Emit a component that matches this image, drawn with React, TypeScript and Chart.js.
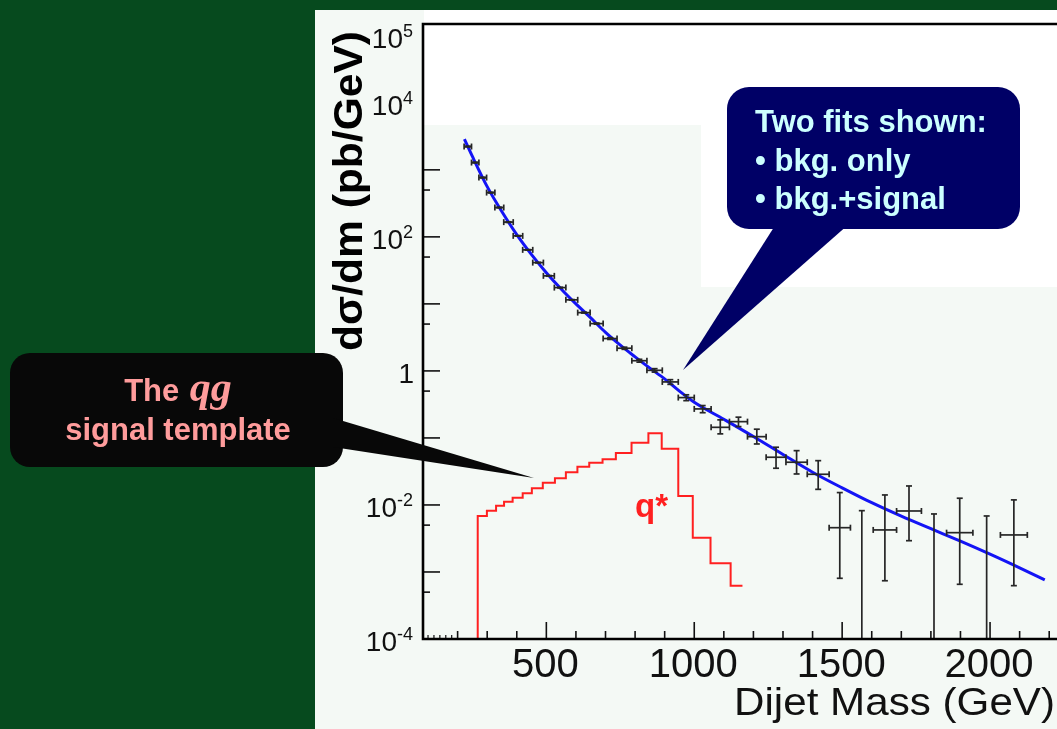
import React, { useEffect, useRef } from 'react';
import { Chart, registerables } from 'chart.js';

Chart.register(...registerables);

// ---------- data ----------
const binEdges = [222, 247, 272, 298, 326, 356, 388, 420, 454, 490, 527, 566, 606, 648, 692, 739, 789, 840, 892, 946, 1000, 1057, 1119, 1180, 1243, 1310, 1382, 1456, 1528, 1605, 1684, 1768, 1853, 1942, 2035, 2126];
const dataValues: (number | null)[] = [2228, 1285, 767, 458, 274, 166, 103.5, 64, 41.3, 26.2, 17.5, 11.5, 7.41, 5.08, 3.04, 2.18, 1.42, 1.02, 0.685, 0.4, 0.271, 0.144, 0.175, 0.1045, 0.0515, 0.0434, 0.0287, 4.58e-3, null, 4.24e-3, 8.13e-3, null, 3.86e-3, null, 3.57e-3];
const dataHigh = [2250, 1298, 775, 463, 277, 168, 104.5, 64.7, 41.7, 26.5, 17.7, 11.6, 7.52, 5.18, 3.13, 2.26, 1.49, 1.08, 0.74, 0.44, 0.304, 0.186, 0.204, 0.135, 0.0726, 0.0646, 0.0458, 0.0153, 8.22e-3, 0.0141, 0.0192, 7.34e-3, 0.0126, 6.85e-3, 0.0119];
const dataLow = [2206, 1272, 759, 453, 271, 164, 102.5, 63.3, 40.9, 25.9, 17.3, 11.4, 7.3, 4.98, 2.95, 2.1, 1.35, 0.96, 0.63, 0.36, 0.238, 0.115, 0.1476, 0.0813, 0.0353, 0.029, 0.0171, 8.05e-4, 0, 7.4e-4, 2.93e-3, 0, 6.55e-4, 0, 6.25e-4];

const fitMass = [223, 250, 300, 350, 400, 450, 500, 550, 600, 650, 700, 750, 800, 850, 900, 950, 1000, 1100, 1200, 1300, 1400, 1500, 1600, 1700, 1800, 1900, 2000, 2100, 2185];
const fitValues = [2884, 1585, 562, 237, 108, 54.3, 29.2, 16.7, 10.0, 6.17, 3.75, 2.42, 1.62, 1.1, 0.76, 0.5, 0.34, 0.19, 0.105, 0.0566, 0.0308, 0.018, 0.0108, 0.0068, 0.00442, 0.00288, 0.00184, 0.00115, 0.00076];

const signalEdges = [222, 268, 299, 330, 357, 386, 420, 451, 488, 529, 566, 605, 645, 690, 735, 788, 845, 890, 946, 995, 1055, 1123, 1163];
const signalValues = [1e-4, 6.85e-3, 8.2e-3, 9.7e-3, 1.12e-2, 1.28e-2, 1.5e-2, 1.77e-2, 2.15e-2, 2.5e-2, 3.08e-2, 3.73e-2, 4.28e-2, 4.81e-2, 5.97e-2, 8.5e-2, 0.1175, 6.92e-2, 1.36e-2, 3.25e-3, 1.35e-3, 6.25e-4];

const yDecades = [-4, -3, -2, -1, 0, 1, 2, 3, 4, 5];
const yLabelExponents = [5, 4, 2, 0, -2, -4];
const xMajorTicks = [500, 1000, 1500, 2000];
const xMinorTicks = [200, 300, 400, 600, 700, 800, 900, 1100, 1200, 1300, 1400, 1600, 1700, 1800, 1900, 2100, 2200];
const xTinyTicks = [100, 120, 140, 160, 180];
const xTickLabels = ['500', '1000', '1500', '2000'];

const yTitle = 'dσ/dm (pb/GeV)';
const xTitle = 'Dijet Mass (GeV)';
const fitsNote = ['Two fits shown:', '• bkg. only', '• bkg.+signal'];
const signalNote = ['The ', 'qg', 'signal template'];
const signalLabel = 'q*';

const FONT = "'Liberation Sans', Arial, Helvetica, sans-serif";
const SERIF = "'Liberation Serif', 'Times New Roman', serif";

function roundRectPath(ctx: CanvasRenderingContext2D, x: number, y: number, w: number, h: number, r: number) {
  ctx.beginPath();
  ctx.moveTo(x + r, y);
  ctx.lineTo(x + w - r, y);
  ctx.arcTo(x + w, y, x + w, y + r, r);
  ctx.lineTo(x + w, y + h - r);
  ctx.arcTo(x + w, y + h, x + w - r, y + h, r);
  ctx.lineTo(x + r, y + h);
  ctx.arcTo(x, y + h, x, y + h - r, r);
  ctx.lineTo(x, y + r);
  ctx.arcTo(x, y, x + r, y, r);
  ctx.closePath();
}

function seg(ctx: CanvasRenderingContext2D, x1: number, y1: number, x2: number, y2: number) {
  ctx.beginPath();
  ctx.moveTo(x1, y1);
  ctx.lineTo(x2, y2);
  ctx.stroke();
}

const decorPlugin = {
  id: 'decor',
  beforeDraw(chart: any) {
    const ctx: CanvasRenderingContext2D = chart.ctx;
    ctx.save();
    ctx.fillStyle = '#064a1e';
    ctx.fillRect(0, 0, chart.width, chart.height);
    ctx.fillStyle = '#f4f9f5';
    ctx.fillRect(315, 10, chart.width - 315, chart.height - 10);
    ctx.restore();
  },
  beforeDatasetsDraw(chart: any) {
    const ctx: CanvasRenderingContext2D = chart.ctx;
    const a = chart.chartArea;
    const x = chart.scales.x;
    const y = chart.scales.y;
    ctx.save();
    ctx.strokeStyle = '#111';
    ctx.lineWidth = 1.6;
    for (const e of yDecades) {
      const py = y.getPixelForValue(Math.pow(10, e));
      seg(ctx, a.left, py, a.left + 17, py);
      if (e < 5) {
        const pm = y.getPixelForValue(5 * Math.pow(10, e));
        seg(ctx, a.left, pm, a.left + 7, pm);
      }
    }
    for (const v of xMajorTicks) {
      const px = x.getPixelForValue(v);
      seg(ctx, px, a.bottom, px, a.bottom - 17);
    }
    for (const v of xMinorTicks) {
      const px = x.getPixelForValue(v);
      seg(ctx, px, a.bottom, px, a.bottom - 8);
    }
    ctx.lineWidth = 1.2;
    for (const v of xTinyTicks) {
      const px = x.getPixelForValue(v);
      seg(ctx, px, a.bottom, px, a.bottom - 4);
    }
    // white overlay panels
    ctx.fillStyle = '#ffffff';
    ctx.fillRect(a.left + 1, 10, 701 - (a.left + 1), 115);
    ctx.fillRect(701, 10, chart.width - 701, 277);
    ctx.restore();
  },
  afterDatasetsDraw(chart: any) {
    const ctx: CanvasRenderingContext2D = chart.ctx;
    const a = chart.chartArea;
    const x = chart.scales.x;
    const y = chart.scales.y;
    ctx.save();
    ctx.beginPath();
    ctx.rect(a.left, a.top, a.right - a.left, a.bottom - a.top);
    ctx.clip();
    ctx.strokeStyle = '#262626';
    ctx.lineWidth = 1.7;
    const cap = 3;
    for (let i = 0; i < dataValues.length; i++) {
      const xl = x.getPixelForValue(binEdges[i]);
      const xr = x.getPixelForValue(binEdges[i + 1]);
      const cx = (xl + xr) / 2;
      const yHi = y.getPixelForValue(dataHigh[i]);
      const lowVisible = dataLow[i] > 1e-4;
      const yLo = lowVisible ? y.getPixelForValue(dataLow[i]) : a.bottom + 2;
      const v = dataValues[i];
      if (v !== null) {
        const cy = y.getPixelForValue(v);
        seg(ctx, xl, cy, xr, cy);
        seg(ctx, xl, cy - cap, xl, cy + cap);
        seg(ctx, xr, cy - cap, xr, cy + cap);
      }
      seg(ctx, cx, yHi, cx, yLo);
      seg(ctx, cx - cap, yHi, cx + cap, yHi);
      if (lowVisible) seg(ctx, cx - cap, yLo, cx + cap, yLo);
    }
    ctx.restore();

    // frame
    ctx.save();
    ctx.strokeStyle = '#000';
    ctx.lineWidth = 2.6;
    ctx.beginPath();
    ctx.moveTo(chart.width, a.top);
    ctx.lineTo(a.left, a.top);
    ctx.lineTo(a.left, a.bottom);
    ctx.lineTo(chart.width, a.bottom);
    ctx.stroke();
    ctx.restore();
  },
  afterDraw(chart: any) {
    const ctx: CanvasRenderingContext2D = chart.ctx;
    const x = chart.scales.x;
    const y = chart.scales.y;
    ctx.save();
    ctx.fillStyle = '#111';
    ctx.textBaseline = 'alphabetic';
    // y tick labels
    const right = 413;
    for (const e of yLabelExponents) {
      const py = y.getPixelForValue(Math.pow(10, e));
      if (e === 0) {
        ctx.font = `28px ${FONT}`;
        ctx.textAlign = 'right';
        ctx.fillText('1', right + 1, py + 12);
      } else {
        const sup = String(e);
        ctx.font = `18px ${FONT}`;
        const sw = ctx.measureText(sup).width;
        ctx.textAlign = 'left';
        ctx.fillText(sup, right - sw, py + 1);
        ctx.font = `28px ${FONT}`;
        ctx.textAlign = 'right';
        ctx.fillText('10', right - sw, py + 12);
      }
    }
    // x tick labels
    ctx.font = `40px ${FONT}`;
    ctx.textAlign = 'center';
    xMajorTicks.forEach((v, i) => {
      ctx.fillText(xTickLabels[i], x.getPixelForValue(v) - 1, 677);
    });
    // x title
    ctx.font = `39px ${FONT}`;
    const tw = ctx.measureText(xTitle).width;
    ctx.save();
    ctx.translate(1055, 715);
    ctx.scale(321 / tw, 1);
    ctx.textAlign = 'right';
    ctx.fillText(xTitle, 0, 0);
    ctx.restore();
    // y title
    ctx.save();
    ctx.font = `bold 41px ${FONT}`;
    const yw = ctx.measureText(yTitle).width;
    ctx.translate(362, 191);
    ctx.rotate(-Math.PI / 2);
    ctx.scale(320 / yw, 1);
    ctx.textAlign = 'center';
    ctx.fillStyle = '#000';
    ctx.fillText(yTitle, 0, 0);
    ctx.restore();

    // q* label
    ctx.font = `bold 33px ${FONT}`;
    ctx.fillStyle = '#ff2020';
    ctx.textAlign = 'left';
    ctx.fillText(signalLabel, 635, 517);

    // black callout
    ctx.fillStyle = '#080808';
    roundRectPath(ctx, 10, 353, 333, 114, 20);
    ctx.fill();
    ctx.beginPath();
    ctx.moveTo(333, 418);
    ctx.lineTo(534, 478);
    ctx.lineTo(333, 447);
    ctx.closePath();
    ctx.fill();
    ctx.fillStyle = '#ff9c9c';
    ctx.font = `bold 31px ${FONT}`;
    const w1 = ctx.measureText(signalNote[0]).width;
    ctx.font = `italic bold 42px ${SERIF}`;
    const w2 = ctx.measureText(signalNote[1]).width;
    const start = 177 - (w1 + w2) / 2;
    ctx.textAlign = 'left';
    ctx.font = `bold 31px ${FONT}`;
    ctx.fillText(signalNote[0], start, 401);
    ctx.font = `italic bold 42px ${SERIF}`;
    ctx.fillText(signalNote[1], start + w1 + 2, 401);
    ctx.font = `bold 31px ${FONT}`;
    ctx.textAlign = 'center';
    ctx.fillText(signalNote[2], 178, 440);

    // blue callout
    ctx.fillStyle = '#000066';
    roundRectPath(ctx, 727, 87, 293, 142, 22);
    ctx.fill();
    ctx.beginPath();
    ctx.moveTo(776, 224);
    ctx.lineTo(683, 370);
    ctx.lineTo(849, 224);
    ctx.closePath();
    ctx.fill();
    ctx.fillStyle = '#ccffff';
    ctx.font = `bold 31px ${FONT}`;
    ctx.textAlign = 'left';
    ctx.fillText(fitsNote[0], 755, 131.5);
    ctx.fillText(fitsNote[1], 755, 170.5);
    ctx.fillText(fitsNote[2], 755, 209);
    ctx.restore();
  },
};

export default function App() {
  const canvasRef = useRef<HTMLCanvasElement | null>(null);

  useEffect(() => {
    const canvas = canvasRef.current;
    if (!canvas) return;
    const dataPoints = dataValues.map((v, i) => ({ x: (binEdges[i] + binEdges[i + 1]) / 2, y: v }));
    const fitPoints = fitMass.map((m, i) => ({ x: m, y: fitValues[i] }));
    const signalPoints = signalValues.map((v, i) => ({ x: signalEdges[i], y: v }));
    signalPoints.push({ x: signalEdges[signalEdges.length - 1], y: signalValues[signalValues.length - 1] });

    const chart = new Chart(canvas, {
      type: 'line',
      data: {
        datasets: [
          {
            label: 'Data',
            data: dataPoints as any,
            showLine: false,
            pointRadius: 0,
            borderColor: '#222',
          },
          {
            label: 'Fit',
            data: fitPoints,
            borderColor: '#1414f5',
            borderWidth: 3,
            pointRadius: 0,
            cubicInterpolationMode: 'monotone',
            fill: false,
          },
          {
            label: 'q* signal',
            data: signalPoints,
            borderColor: '#ff2020',
            borderWidth: 2,
            pointRadius: 0,
            stepped: 'before',
            fill: false,
          },
        ],
      },
      options: {
        responsive: false,
        animation: false,
        devicePixelRatio: 1,
        events: [],
        layout: { padding: { left: 423, top: 24, right: 36, bottom: 90 } },
        scales: {
          x: { type: 'linear', min: 83, max: 2250, display: false, bounds: 'data' },
          y: { type: 'logarithmic', min: 1e-4, max: 1.5e5, display: false, bounds: 'data' },
        },
        plugins: { legend: { display: false }, tooltip: { enabled: false } },
      } as any,
      plugins: [decorPlugin],
    });
    return () => chart.destroy();
  }, []);

  return (
    <div style={{ position: 'absolute', left: 0, top: 0, width: 1057, height: 729, overflow: 'hidden', background: '#064a1e' }}>
      <canvas ref={canvasRef} width={1100} height={729} style={{ display: 'block', width: 1100, height: 729 }} />
    </div>
  );
}
